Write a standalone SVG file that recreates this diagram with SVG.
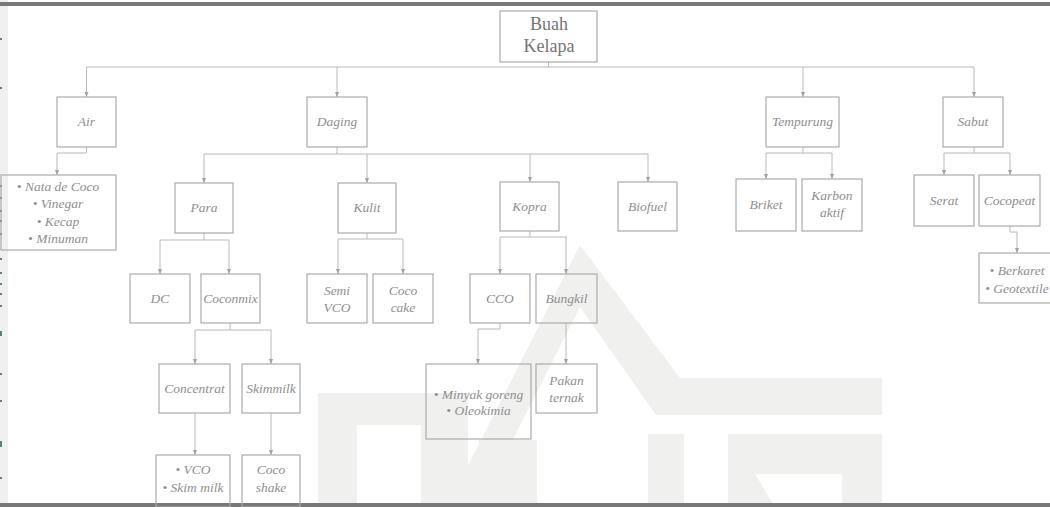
<svg xmlns="http://www.w3.org/2000/svg" width="1050" height="507" viewBox="0 0 1050 507">
  <defs>
    <marker id="arrow" markerWidth="6" markerHeight="5" refX="5" refY="2.5" orient="auto" markerUnits="userSpaceOnUse">
      <path d="M0,0.5 L5,2.5 L0,4.5 Z" fill="#a0a0a0"/>
    </marker>
    <style>
      .box { fill: none; stroke: #ababab; stroke-width: 1.2; }
      .lbl { font-family: "Liberation Serif", "Times New Roman", serif; font-style: italic; font-size: 13.5px; fill: #8e8e8e; text-anchor: middle; }
      .root { font-family: "Liberation Serif", "Times New Roman", serif; font-size: 18px; fill: #747474; text-anchor: middle; }
      .wire { fill: none; stroke: #b8b8b8; stroke-width: 1; }
      .drop { fill: none; stroke: #b8b8b8; stroke-width: 1; marker-end: url(#arrow); }
      .wm { fill: #f0f0ee; }
    </style>
  </defs>

  <rect x="0" y="0" width="1050" height="507" fill="#ffffff"/>

  <!-- faint background emblem -->
  <g id="emblem">
    <polygon class="wm" points="580,245 680,378 882,378 882,415 656,415 580,307 479,507 447,507"/>
    <polygon class="wm" points="728,434 882,434 882,507 842,507 842,474 755,474 775,507 728,507"/>
    <rect class="wm" x="648" y="434" width="36" height="73"/>
    <polygon class="wm" points="318,393 468,393 468,507 421,507 421,425 357,425 357,507 318,507"/>
    <rect class="wm" x="479" y="440" width="58" height="67"/>
  </g>

  <!-- page edges -->
  <rect x="0" y="0" width="8" height="507" fill="#f0f0f0"/>
  <rect x="0" y="2" width="1050" height="4" fill="#787878"/>
  <rect x="0" y="503" width="1050" height="4" fill="#787878"/>
  <g fill="#5f7f78">
    <rect x="0" y="38" width="2" height="2"/>
    <rect x="0" y="87" width="2" height="2"/>
    <rect x="0" y="185" width="2" height="2"/>
    <rect x="0" y="197" width="2" height="2"/>
    <rect x="0" y="210" width="2" height="2"/>
    <rect x="0" y="220" width="2" height="2"/>
    <rect x="0" y="233" width="2" height="2"/>
    <rect x="0" y="258" width="2" height="2"/>
    <rect x="0" y="272" width="2" height="2"/>
    <rect x="0" y="283" width="2" height="2"/>
    <rect x="0" y="293" width="2" height="2"/>
    <rect x="0" y="305" width="2" height="2"/>
    <rect x="0" y="331" width="2" height="5"/>
    <rect x="0" y="373" width="2" height="2"/>
    <rect x="0" y="400" width="2" height="2"/>
    <rect x="0" y="441" width="2" height="6"/>
    <rect x="0" y="477" width="2" height="2"/>
  </g>

  <!-- connectors -->
  <g id="connectors">
    <path class="wire" d="M548.5,62 V67 M86.5,67 H974"/>
    <path class="drop" d="M86.5,67 V97"/>
    <path class="drop" d="M337,67 V97"/>
    <path class="drop" d="M803,67 V97"/>
    <path class="drop" d="M974,67 V97"/>

    <path class="wire" d="M86.5,147 V153 H57"/>
    <path class="drop" d="M57,153 V175"/>

    <path class="wire" d="M337,147 V154 M204,154 H648"/>
    <path class="drop" d="M204,154 V183"/>
    <path class="drop" d="M367,154 V183"/>
    <path class="drop" d="M530,154 V182"/>
    <path class="drop" d="M648,154 V182"/>

    <path class="wire" d="M204,233 V240 M160,240 H229"/>
    <path class="drop" d="M160,240 V274"/>
    <path class="drop" d="M229,240 V274"/>

    <path class="wire" d="M367,233 V239 M338,239 H403"/>
    <path class="drop" d="M338,239 V274"/>
    <path class="drop" d="M403,239 V274"/>

    <path class="wire" d="M530,231 V237 M500,237 H567"/>
    <path class="drop" d="M500,237 V274"/>
    <path class="drop" d="M566,237 V274"/>

    <path class="wire" d="M803,147 V153 M766,153 H832"/>
    <path class="drop" d="M766,153 V179"/>
    <path class="drop" d="M832,153 V179"/>

    <path class="wire" d="M974,147 V153 M944,153 H1010"/>
    <path class="drop" d="M944,153 V175"/>
    <path class="drop" d="M1010,153 V175"/>

    <path class="wire" d="M1010,226 V232 H1017"/>
    <path class="drop" d="M1017,232 V253"/>

    <path class="wire" d="M230,323 V330 M195,330 H271"/>
    <path class="drop" d="M195,330 V364"/>
    <path class="drop" d="M271,330 V364"/>

    <path class="drop" d="M195,413 V455"/>
    <path class="drop" d="M271,413 V455"/>

    <path class="wire" d="M500,323 V329 H478"/>
    <path class="drop" d="M478,329 V364"/>

    <path class="drop" d="M566,323 V364"/>
  </g>

  <!-- nodes -->
  <g id="buah-kelapa">
    <rect class="box" x="500" y="11" width="97" height="51"/>
    <text class="root" x="549" y="30">Buah</text>
    <text class="root" x="549" y="52">Kelapa</text>
  </g>

  <g id="air">
    <rect class="box" x="57" y="97" width="59" height="50"/>
    <text class="lbl" x="86.5" y="126">Air</text>
  </g>
  <g id="daging">
    <rect class="box" x="307" y="97" width="60" height="50"/>
    <text class="lbl" x="337" y="126">Daging</text>
  </g>
  <g id="tempurung">
    <rect class="box" x="766" y="97" width="73" height="50"/>
    <text class="lbl" x="802.5" y="126">Tempurung</text>
  </g>
  <g id="sabut">
    <rect class="box" x="943" y="97" width="60" height="50"/>
    <text class="lbl" x="973" y="126">Sabut</text>
  </g>

  <g id="produk-air">
    <rect class="box" x="1" y="175" width="115" height="75"/>
    <text class="lbl" x="58" y="191">• Nata de Coco</text>
    <text class="lbl" x="58" y="208">• Vinegar</text>
    <text class="lbl" x="58" y="226">• Kecap</text>
    <text class="lbl" x="58" y="243">• Minuman</text>
  </g>

  <g id="para">
    <rect class="box" x="175" y="183" width="58" height="50"/>
    <text class="lbl" x="204" y="212">Para</text>
  </g>
  <g id="kulit">
    <rect class="box" x="338" y="183" width="58" height="50"/>
    <text class="lbl" x="367" y="212">Kulit</text>
  </g>
  <g id="kopra">
    <rect class="box" x="500" y="182" width="59" height="49"/>
    <text class="lbl" x="529.5" y="211">Kopra</text>
  </g>
  <g id="biofuel">
    <rect class="box" x="618" y="182" width="59" height="49"/>
    <text class="lbl" x="647.5" y="211">Biofuel</text>
  </g>
  <g id="briket">
    <rect class="box" x="736" y="179" width="60" height="52"/>
    <text class="lbl" x="766" y="209">Briket</text>
  </g>
  <g id="karbon-aktif">
    <rect class="box" x="802" y="179" width="60" height="52"/>
    <text class="lbl" x="832" y="200">Karbon</text>
    <text class="lbl" x="832" y="217">aktif</text>
  </g>
  <g id="serat">
    <rect class="box" x="914" y="175" width="60" height="51"/>
    <text class="lbl" x="944" y="205">Serat</text>
  </g>
  <g id="cocopeat">
    <rect class="box" x="979" y="175" width="61" height="51"/>
    <text class="lbl" x="1009.5" y="205">Cocopeat</text>
  </g>
  <g id="produk-cocopeat">
    <rect class="box" x="979" y="253" width="80" height="50"/>
    <text class="lbl" x="1017" y="275">• Berkaret</text>
    <text class="lbl" x="1017" y="293">• Geotextile</text>
  </g>

  <g id="dc">
    <rect class="box" x="130" y="274" width="60" height="49"/>
    <text class="lbl" x="160" y="303">DC</text>
  </g>
  <g id="coconmix">
    <rect class="box" x="201" y="274" width="59" height="49"/>
    <text class="lbl" x="230.5" y="303">Coconmix</text>
  </g>
  <g id="semi-vco">
    <rect class="box" x="307" y="274" width="60" height="49"/>
    <text class="lbl" x="337" y="295">Semi</text>
    <text class="lbl" x="337" y="312">VCO</text>
  </g>
  <g id="coco-cake">
    <rect class="box" x="373" y="274" width="60" height="49"/>
    <text class="lbl" x="403" y="295">Coco</text>
    <text class="lbl" x="403" y="312">cake</text>
  </g>
  <g id="cco">
    <rect class="box" x="470" y="274" width="60" height="49"/>
    <text class="lbl" x="500" y="303">CCO</text>
  </g>
  <g id="bungkil">
    <rect class="box" x="536" y="274" width="61" height="49"/>
    <text class="lbl" x="566.5" y="303">Bungkil</text>
  </g>

  <g id="concentrat">
    <rect class="box" x="159" y="364" width="71" height="49"/>
    <text class="lbl" x="194.5" y="393">Concentrat</text>
  </g>
  <g id="skimmilk">
    <rect class="box" x="242" y="364" width="58" height="49"/>
    <text class="lbl" x="271" y="393">Skimmilk</text>
  </g>
  <g id="produk-cco">
    <rect class="box" x="426" y="364" width="105" height="75"/>
    <text class="lbl" x="478.5" y="399">• Minyak goreng</text>
    <text class="lbl" x="478.5" y="415">• Oleokimia</text>
  </g>
  <g id="pakan-ternak">
    <rect class="box" x="536" y="364" width="61" height="49"/>
    <text class="lbl" x="566.5" y="385">Pakan</text>
    <text class="lbl" x="566.5" y="402">ternak</text>
  </g>

  <g id="produk-concentrat">
    <rect class="box" x="156" y="455" width="74" height="52"/>
    <text class="lbl" x="193" y="474">• VCO</text>
    <text class="lbl" x="193" y="492">• Skim milk</text>
  </g>
  <g id="coco-shake">
    <rect class="box" x="242" y="455" width="58" height="52"/>
    <text class="lbl" x="271" y="474">Coco</text>
    <text class="lbl" x="271" y="492">shake</text>
  </g>
</svg>
